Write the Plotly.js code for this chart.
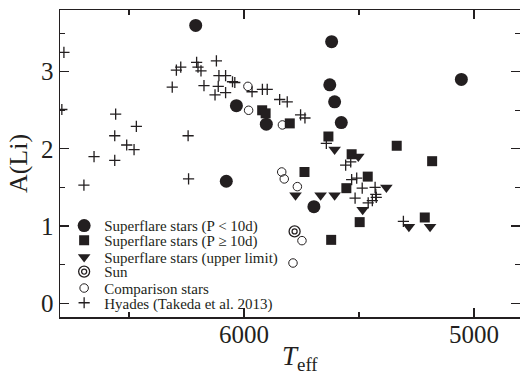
<!DOCTYPE html>
<html>
<head>
<meta charset="utf-8">
<script src="https://cdn.plot.ly/plotly-3.0.1.min.js"></script>
<style>html,body{margin:0;padding:0;background:#fff;}#chart{width:520px;height:377px;}</style>
</head>
<body>
<div id="chart"></div>
<script>
// Superflare stars, rotation period P < 10 d
const fastTeff = [6210, 5619, 5627, 5606, 5577, 6033, 5903, 5055, 6077, 5696];
const fastALi  = [3.60, 3.39, 2.83, 2.61, 2.34, 2.56, 2.32, 2.90, 1.58, 1.25];
// Superflare stars, P >= 10 d
const slowTeff = [5921, 5906, 5801, 5633, 5532, 5737, 5336, 5182, 5555, 5497, 5621, 5462, 5214];
const slowALi  = [2.50, 2.46, 2.33, 2.16, 1.93, 1.70, 2.04, 1.84, 1.49, 1.05, 0.82, 1.64, 1.11];
// Superflare stars, upper limits
const ulTeff = [5606, 5503, 5776, 5667, 5606, 5484, 5381, 5283, 5191];
const ulALi  = [1.99, 1.90, 1.40, 1.40, 1.40, 1.21, 1.50, 0.99, 0.99];
// Sun
const sunTeff = [5780];
const sunALi  = [0.93];
// Comparison stars
const compTeff = [5983, 5980, 5833, 5836, 5825, 5768, 5748, 5787];
const compALi  = [2.81, 2.50, 2.31, 1.70, 1.61, 1.51, 0.81, 0.52];
// Hyades (Takeda et al. 2013)
const hyTeff = [6783, 6792, 6558, 6468, 6562, 6510, 6478, 6652, 6562, 6696, 6241,
  6312, 6294, 6275, 6206, 6200, 6187, 6174, 6120, 6109, 6112, 6126, 6080, 6080, 6050, 6040, 6243,
  5965, 5920, 5899, 5845, 5812, 5754, 5735, 5642,
  5558, 5536, 5532, 5510, 5486, 5517, 5430, 5427, 5425, 5442, 5460, 5307];
const hyALi  = [3.25, 2.51, 2.45, 2.29, 2.17, 2.05, 1.99, 1.90, 1.85, 1.53, 1.61,
  2.80, 3.02, 3.06, 3.12, 3.06, 3.01, 2.82, 3.14, 2.95, 2.81, 2.70, 2.73, 2.95, 2.87, 2.86, 2.17,
  2.74, 2.77, 2.77, 2.64, 2.61, 2.44, 2.40, 2.07,
  1.79, 1.83, 1.60, 1.62, 1.49, 1.36, 1.50, 1.41, 1.37, 1.33, 1.30, 1.06];
const xTickVals = [6000, 5000];
const yTickVals = [0, 1, 2, 3];

const INK = '#231f20';
const SERIF = 'Liberation Serif, Times New Roman, serif';

const traces = [
  {x: fastTeff, y: fastALi, name: 'Superflare stars (P < 10d)', legend: 'legend',
   mode: 'markers', type: 'scatter', marker: {symbol: 'circle', size: 13, color: INK}},
  {x: slowTeff, y: slowALi, name: 'Superflare stars (P \u2265 10d)', legend: 'legend2',
   mode: 'markers', type: 'scatter', marker: {symbol: 'square', size: 10, color: INK}},
  {x: ulTeff, y: ulALi, name: 'Superflare stars (upper limit)', legend: 'legend3',
   mode: 'markers', type: 'scatter', marker: {symbol: 'triangle-down', size: 11, color: INK}},
  {x: sunTeff, y: sunALi, name: 'Sun', legend: 'legend4',
   mode: 'markers', type: 'scatter', marker: {symbol: 'circle-open', size: 11, color: INK, line: {width: 1.3, color: INK}}},
  {x: sunTeff, y: sunALi, name: ' ', legend: 'legend7',
   mode: 'markers', type: 'scatter', marker: {symbol: 'circle-open', size: 5, color: INK, line: {width: 1.3, color: INK}}},
  {x: compTeff, y: compALi, name: 'Comparison stars', legend: 'legend5',
   mode: 'markers', type: 'scatter', marker: {symbol: 'circle-open', size: 8.5, color: INK, line: {width: 1, color: INK}}},
  {x: hyTeff, y: hyALi, name: 'Hyades (Takeda et al. 2013)', legend: 'legend6',
   mode: 'markers', type: 'scatter', marker: {symbol: 'cross-thin-open', size: 8, color: INK, line: {width: 1.3, color: INK}}}
];

function leg(y) {
  return {x: 0.009, xanchor: 'left', y: y, yanchor: 'middle', bgcolor: 'rgba(0,0,0,0)',
          borderwidth: 0, itemsizing: 'trace', itemclick: false,
          font: {family: SERIF, size: 15, color: INK}};
}

const axisCommon = {
  showgrid: false, zeroline: false, showline: true, linecolor: INK, linewidth: 1.5,
  mirror: 'ticks', ticks: 'inside', ticklen: 9, tickwidth: 1.2, tickcolor: INK,
  tickfont: {family: SERIF, size: 25, color: INK}
};

const layout = {
  width: 520, height: 377,
  margin: {l: 60, r: 0, t: 10, b: 60},
  paper_bgcolor: '#fff', plot_bgcolor: '#fff',
  showlegend: true,
  xaxis: Object.assign({}, axisCommon, {
    range: [6800, 4800], tickvals: xTickVals, ticktext: xTickVals.map(String),
    ticklabelstandoff: -6,
    minor: {dtick: 500, tick0: 0, ticks: 'inside', ticklen: 5, tickwidth: 1.2, tickcolor: INK}
  }),
  yaxis: Object.assign({}, axisCommon, {
    range: [-0.18, 3.8], tickvals: yTickVals, ticktext: yTickVals.map(String),
    minor: {dtick: 0.5, tick0: 0, ticks: 'inside', ticklen: 5, tickwidth: 1.2, tickcolor: INK},
    title: {text: 'A(Li)', font: {family: SERIF, size: 26, color: INK}, standoff: 6}
  }),
  legend: leg(0.297), legend2: leg(0.249), legend3: leg(0.195), legend4: leg(0.147),
  legend7: leg(0.147), legend5: leg(0.0935), legend6: leg(0.0456),
  annotations: [
    {text: '<i>T</i><sub>eff</sub>', xref: 'paper', yref: 'paper', x: 0.522, y: -0.195,
     xanchor: 'center', yanchor: 'bottom', showarrow: false,
     font: {family: SERIF, size: 27, color: INK}}
  ]
};

Plotly.newPlot('chart', traces, layout, {staticPlot: true, displayModeBar: false});
</script>
</body>
</html>
